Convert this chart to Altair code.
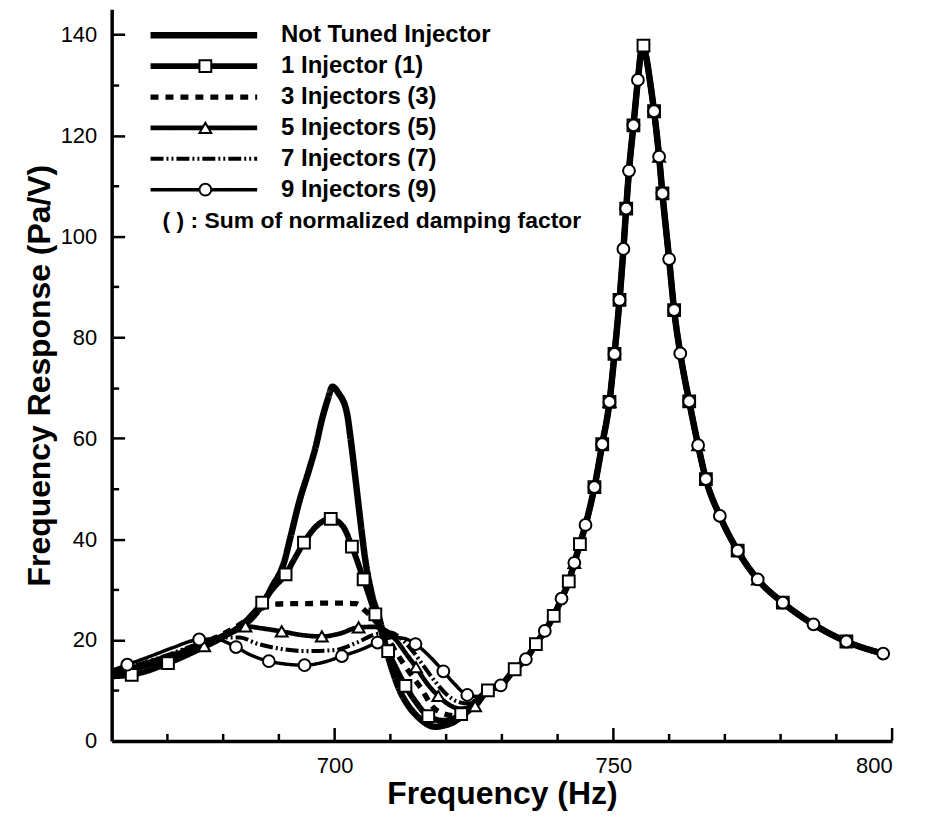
import altair as alt
import pandas as pd

FONT = "Liberation Sans"

SERIES = ["Not Tuned Injector", "1 Injector (1)", "3 Injectors (3)",
          "5 Injectors (5)", "7 Injectors (7)", "9 Injectors (9)"]
NOTE = "( ) : Sum of normalized damping factor"

# branch above ~727 Hz where all curves coincide
COMMON_F = [727.5, 729.8, 732.3, 734.3, 736.1, 737.7, 739.3, 740.7, 742.0, 743.0,
            744.0, 745.0, 746.6, 748.0, 749.3, 750.2, 751.1, 751.8, 752.3, 752.8,
            753.6, 754.4, 755.0, 755.4, 755.9, 756.6, 757.3, 758.2, 758.8, 760.0,
            760.9, 762.0, 763.6, 765.2, 766.6, 769.1, 772.3, 775.9, 780.4, 785.9,
            791.8, 798.4]
COMMON_V = [10.0, 11.0, 14.2, 16.2, 19.2, 21.8, 24.8, 28.2, 31.6, 35.3,
            39.0, 42.8, 50.3, 58.8, 67.2, 76.7, 87.4, 97.5, 105.5, 113.0,
            122.0, 131.0, 136.8, 137.8, 135.5, 130.5, 124.8, 115.8, 108.5, 95.5,
            85.4, 76.8, 67.3, 58.6, 51.9, 44.6, 37.7, 32.0, 27.4, 23.1,
            19.7, 17.3]

NT_F = [660, 665, 670, 675, 680, 683, 685, 687, 688.8, 690.9, 692.1, 693.6, 695.4,
        696.6, 697.7, 698.8, 699.6, 700.7, 702.2, 702.9, 703.7, 704.6, 705.5, 706.6,
        708.2, 709.3, 710.5, 711.8, 713.2, 714.8, 716.3, 718.0, 719.8, 721.6, 723.5, 725.5]
NT_V = [13.0, 14.6, 16.4, 18.5, 20.8, 22.5, 24.2, 27.0, 30.6, 35.3, 40.5, 47.2, 53.7,
        58.3, 63.6, 67.8, 70.2, 68.9, 65.0, 59.6, 52.3, 43.8, 35.9, 29.4,
        23.5, 18.0, 13.5, 9.7, 7.0, 4.9, 3.5, 2.8, 3.1, 3.9, 5.5, 7.6]

INJ1_F = [660, 663.6, 670.1, 675, 680, 683.5, 687.0, 689, 691.2, 693, 694.5, 696.5,
          699.3, 701.5, 703.1, 705.2, 707.3, 709.6, 711.2, 712.7, 714.7, 716.8, 719.5,
          722.7, 725.2]
INJ1_V = [12.8, 13.1, 15.4, 17.8, 20.6, 23.2, 27.4, 30.3, 33.0, 36.5, 39.3, 42.3,
          44.0, 42.5, 38.5, 32.0, 25.1, 17.8, 14.0, 10.9, 7.5, 4.9, 4.0,
          5.3, 7.8]
INJ1_MARK = [663.6, 670.1, 687.0, 691.2, 694.5, 699.3, 703.1, 705.2, 707.3, 709.6,
             712.7, 716.8, 722.7, 727.5, 732.3, 736.1, 739.3, 742.0, 744.0, 746.6,
             748.0, 749.3, 750.2, 751.1, 752.3, 753.6, 755.4, 757.3, 758.8, 760.9,
             763.6, 766.6, 772.3, 780.4, 791.8]

INJ3_F = [660, 665, 670, 675, 680, 684, 687, 689, 692, 695, 698, 701, 703.8, 705.5,
          707.5, 709, 711.8, 713.8, 715.6, 717.4, 719.5, 721.5, 723.5, 725.5]
INJ3_V = [13.2, 14.8, 16.7, 18.8, 21.2, 23.8, 26.3, 27.1, 27.2, 27.2, 27.3, 27.3, 27.2, 25.8,
          23.5, 21.2, 16.2, 13.0, 10.3, 7.0, 5.4, 5.0, 5.8, 7.6]

INJ5_F = [660, 665, 670, 676.6, 680, 684.0, 687, 690.5, 694, 697.7, 701, 704.3, 707,
          709, 711, 713, 714.6, 716.5, 718.6, 720.5, 722.5, 725.2]
INJ5_V = [13.3, 15.0, 16.8, 18.8, 20.6, 22.7, 22.3, 21.7, 21.0, 20.7, 21.3, 22.5, 22.6,
          22.0, 20.0, 17.0, 14.6, 11.5, 8.9, 7.2, 6.4, 6.9]
INJ5_MARK = [676.6, 684.0, 690.5, 697.7, 704.3, 714.6, 718.6, 725.2,
             743.0, 749.3, 758.2, 765.2, 775.9]

INJ7_F = [660, 665, 670, 675, 680, 683, 686, 690, 695, 700, 704, 707, 710, 712, 714,
          716, 718, 720, 722, 724, 725.5]
INJ7_V = [13.5, 15.2, 17.0, 19.0, 20.5, 20.5, 19.3, 18.3, 17.8, 18.0, 19.5, 21.0, 21.5,
          20.2, 17.8, 14.8, 11.8, 9.3, 7.8, 7.4, 7.8]

INJ9_F = [660, 662.8, 667, 671, 675.7, 678.5, 682.3, 685, 688.2, 691.5, 694.6, 698,
          701.3, 704.5, 707.7, 710.5, 712.5, 714.5, 717, 719.5, 721.5, 723.8, 726]
INJ9_V = [14.0, 15.1, 16.8, 18.5, 20.1, 20.2, 18.6, 17.0, 15.8, 15.2, 15.0, 15.6,
          16.8, 18.0, 19.5, 20.5, 20.3, 19.2, 16.8, 13.8, 11.3, 9.1, 8.8]
INJ9_MARK = [662.8, 675.7, 682.3, 688.2, 694.6, 701.3, 707.7, 714.5, 719.5, 723.8,
             729.8, 734.3, 737.7, 740.7, 743.0, 745.0, 746.6, 748.0, 749.3, 750.2,
             751.1, 751.8, 752.3, 752.8, 753.6, 754.4, 757.3, 758.2, 758.8, 760.0,
             760.9, 762.0, 763.6, 765.2, 766.6, 769.1, 772.3, 775.9, 780.4, 785.9,
             791.8, 798.4]

X_LABELS = [700, 750, 800]
Y_LABELS = [0, 20, 40, 60, 80, 100, 120, 140]
X_MAJOR = [700, 750, 800]
X_MINOR = [670, 680, 690, 710, 720, 730, 740, 760, 770, 780, 790]
Y_TICKS = [10, 20, 30, 40, 50, 60, 70, 80, 90, 100, 110, 120, 130, 140]

DASHES = [[1, 0], [1, 0], [8, 7], [1, 0], [13, 3, 2, 3, 2, 3], [1, 0]]
WIDTHS = [6.5, 3.5, 5, 5, 5, 4.5]
SHAPES = ["M0,0", "square", "M0,0", "triangle-up", "M0,0", "circle"]

curves = [
    (SERIES[0], NT_F, NT_V, []),
    (SERIES[1], INJ1_F, INJ1_V, INJ1_MARK),
    (SERIES[2], INJ3_F, INJ3_V, []),
    (SERIES[3], INJ5_F, INJ5_V, INJ5_MARK),
    (SERIES[4], INJ7_F, INJ7_V, []),
    (SERIES[5], INJ9_F, INJ9_V, INJ9_MARK),
]

line_rows, mark_rows = [], []
for name, fs, vs, mk in curves:
    allf = fs + COMMON_F
    allv = vs + COMMON_V
    for f, v in zip(allf, allv):
        line_rows.append({"freq": f, "value": v, "series": name})
        if f in mk:
            mark_rows.append({"freq": f, "value": v, "mk": name + " "})
lines_df = pd.DataFrame(line_rows)
marks_df = pd.DataFrame(mark_rows)
xmaj_df = pd.DataFrame({"t": X_MAJOR, "z": [0] * len(X_MAJOR)})
xmin_df = pd.DataFrame({"t": X_MINOR, "z": [0] * len(X_MINOR)})

W, H = 783, 734
x_scale = alt.Scale(domain=[660, 800], nice=False, zero=False)
y_scale = alt.Scale(domain=[0, 145], nice=False, zero=False)

ytick_size = {"condition": {"test": "datum.value % 20 === 0", "value": 13}, "value": 7}

line_legend = alt.Legend(
    orient="none", legendX=35.5, legendY=14.5, direction="vertical", title=None,
    labelFont=FONT, labelFontSize=24, labelFontWeight="bold", labelColor="black",
    labelLimit=500, labelOffset=20.5, symbolType="stroke", symbolSize=11449,
    symbolStrokeColor="black", clipHeight=23, rowPadding=6.0, padding=0, symbolOffset=0,
)

lines = alt.Chart(lines_df).mark_line(
    color="black", interpolate="monotone", strokeJoin="round"
).encode(
    x=alt.X("freq:Q", scale=x_scale, axis=alt.Axis(
        orient="bottom", values=X_LABELS, ticks=False, grid=False,
        domainWidth=3.5, domainColor="black", labelFont=FONT, labelFontSize=22,
        labelColor="black", labelPadding=15, title="Frequency (Hz)", titleFont=FONT,
        titleFontSize=32, titleFontWeight="bold", titleColor="black", titlePadding=2)),
    y=alt.Y("value:Q", scale=y_scale, axis=alt.Axis(
        orient="left", values=Y_LABELS, ticks=False, grid=False,
        domainWidth=3.5, domainColor="black", labelFont=FONT, labelFontSize=22,
        labelColor="black", labelPadding=15, title="Frequency Response (Pa/V)",
        titleFont=FONT, titleFontSize=32, titleFontWeight="bold", titleColor="black",
        titlePadding=4)),
    strokeDash=alt.StrokeDash("series:N", scale=alt.Scale(domain=SERIES, range=DASHES),
                              legend=line_legend),
    strokeWidth=alt.StrokeWidth("series:N", scale=alt.Scale(domain=SERIES, range=WIDTHS),
                                legend=line_legend),
)

points = alt.Chart(marks_df).mark_point(
    filled=False, fill="white", stroke="black", strokeWidth=2, size=140, opacity=1,
    fillOpacity=1, strokeOpacity=1
).encode(
    x=alt.X("freq:Q", scale=x_scale, axis=None),
    y=alt.Y("value:Q", scale=y_scale, axis=alt.Axis(
        orient="right", offset=-W, values=Y_TICKS, tickSize=ytick_size, tickWidth=2.5,
        tickColor="black", labels=False, domain=False, grid=False, title="")),
    shape=alt.Shape("mk:N", scale=alt.Scale(domain=[s + " " for s in SERIES], range=SHAPES),
                    legend=alt.Legend(
                        orient="none", legendX=51, legendY=14.5, direction="vertical",
                        title=NOTE, titleOrient="bottom", titleAnchor="start",
                        titleFont=FONT, titleFontSize=23, titleFontWeight="bold",
                        titleColor="black", titlePadding=8, titleLimit=800,
                        labelFont=FONT, labelFontSize=24, labelFontWeight="bold",
                        labelExpr="' '", labelLimit=500,
                        labelOffset=20.5, symbolSize=140, symbolStrokeWidth=2,
                        symbolOpacity=1, clipHeight=23, rowPadding=6.0, padding=0,
                        symbolOffset=31)),
)

xmaj = alt.Chart(xmaj_df).mark_tick(
    orient="vertical", size=13, thickness=2.5, color="black", opacity=1, yOffset=-6.5
).encode(
    x=alt.X("t:Q", scale=x_scale, axis=None),
    y=alt.Y("z:Q", scale=y_scale, axis=None),
)
xmin = alt.Chart(xmin_df).mark_tick(
    orient="vertical", size=7, thickness=2.5, color="black", opacity=1, yOffset=-3.5
).encode(
    x=alt.X("t:Q", scale=x_scale, axis=None),
    y=alt.Y("z:Q", scale=y_scale, axis=None),
)

chart = alt.layer(lines, points, xmaj, xmin).resolve_axis(
    x="independent", y="independent"
).properties(
    width=W, height=H,
    autosize=alt.AutoSizeParams(type="none"),
    padding={"left": 104, "top": 0, "right": 30, "bottom": 70},
    background="white",
).configure_view(stroke="transparent")

chart.save("out.html", embed_options={"renderer": "svg", "actions": False})
